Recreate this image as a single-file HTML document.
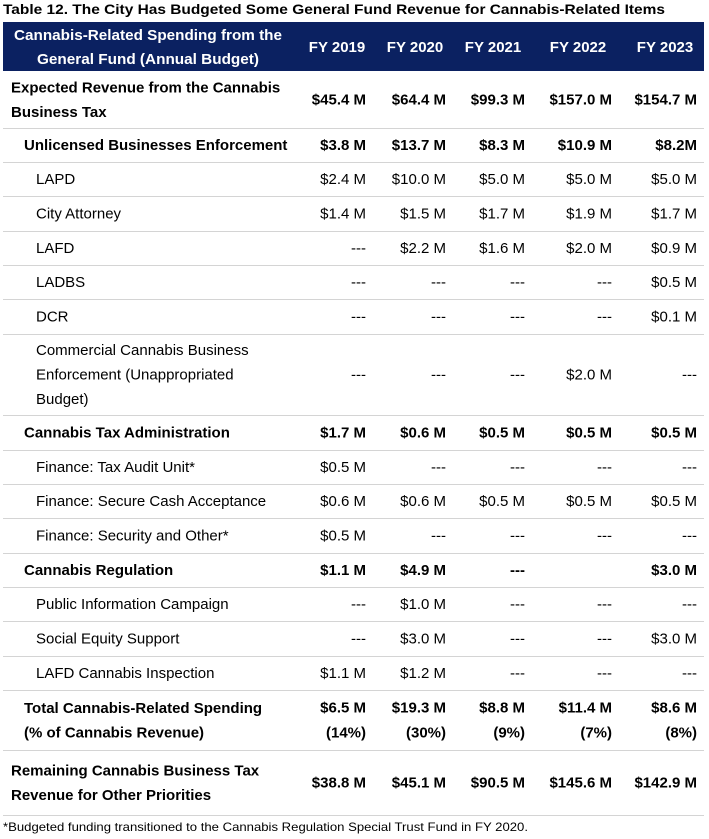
<!DOCTYPE html>
<html><head><meta charset="utf-8"><style>
html,body{margin:0;padding:0;background:#fff;}
svg{display:block;font-family:"Liberation Sans",sans-serif;}
</style></head><body>
<svg id="t" width="709" height="839" viewBox="0 0 709 839">
<text x="3" y="14" font-size="14" font-weight="bold" fill="#000" textLength="662" lengthAdjust="spacingAndGlyphs">Table 12. The City Has Budgeted Some General Fund Revenue for Cannabis-Related Items</text>
<rect x="3" y="22" width="701" height="49" fill="#0B2161"/>
<text x="148" y="40" font-size="15" font-weight="bold" fill="#fff" text-anchor="middle" textLength="268" lengthAdjust="spacingAndGlyphs">Cannabis-Related Spending from the</text>
<text x="148" y="64" font-size="15" font-weight="bold" fill="#fff" text-anchor="middle" textLength="222" lengthAdjust="spacingAndGlyphs">General Fund (Annual Budget)</text>
<g id="body"></g>
<text x="3" y="831" font-size="12" fill="#000" textLength="525" lengthAdjust="spacingAndGlyphs">*Budgeted funding transitioned to the Cannabis Regulation Special Trust Fund in FY 2020.</text>
</svg>
<script>
const years=["FY 2019","FY 2020","FY 2021","FY 2022","FY 2023"];
const labels=[["Expected Revenue from the Cannabis","Business Tax"],["Unlicensed Businesses Enforcement"],["LAPD"],["City Attorney"],["LAFD"],["LADBS"],["DCR"],["Commercial Cannabis Business","Enforcement (Unappropriated","Budget)"],["Cannabis Tax Administration"],["Finance: Tax Audit Unit*"],["Finance: Secure Cash Acceptance"],["Finance: Security and Other*"],["Cannabis Regulation"],["Public Information Campaign"],["Social Equity Support"],["LAFD Cannabis Inspection"],["Total Cannabis-Related Spending","(% of Cannabis Revenue)"],["Remaining Cannabis Business Tax","Revenue for Other Priorities"]];
const indent=[0,1,2,2,2,2,2,2,1,2,2,2,1,2,2,2,1,0];
const bold=[1,1,0,0,0,0,0,0,1,0,0,0,1,0,0,0,1,1];
const values=[
["$45.4 M","$64.4 M","$99.3 M","$157.0 M","$154.7 M"],
["$3.8 M","$13.7 M","$8.3 M","$10.9 M","$8.2M"],
["$2.4 M","$10.0 M","$5.0 M","$5.0 M","$5.0 M"],
["$1.4 M","$1.5 M","$1.7 M","$1.9 M","$1.7 M"],
["---","$2.2 M","$1.6 M","$2.0 M","$0.9 M"],
["---","---","---","---","$0.5 M"],
["---","---","---","---","$0.1 M"],
["---","---","---","$2.0 M","---"],
["$1.7 M","$0.6 M","$0.5 M","$0.5 M","$0.5 M"],
["$0.5 M","---","---","---","---"],
["$0.6 M","$0.6 M","$0.5 M","$0.5 M","$0.5 M"],
["$0.5 M","---","---","---","---"],
["$1.1 M","$4.9 M","---","","$3.0 M"],
["---","$1.0 M","---","---","---"],
["---","$3.0 M","---","---","$3.0 M"],
["$1.1 M","$1.2 M","---","---","---"],
["$6.5 M","$19.3 M","$8.8 M","$11.4 M","$8.6 M"],
["$38.8 M","$45.1 M","$90.5 M","$145.6 M","$142.9 M"]];
const pct=["(14%)","(30%)","(9%)","(7%)","(8%)"];
const bounds=[71,128,162,196,231,265,299,334,415,450,484,518,553,587,621,656,690,750,815];
const NS="http://www.w3.org/2000/svg";
const colRight=[366,446,525,612,697];
const headCenter=[337,415,493,578,665];
const indentX=[11,24,36];
const FS=15;
const svg=document.getElementById('t');
function mk(tag,attrs,txt){const e=document.createElementNS(NS,tag);for(const k in attrs)e.setAttribute(k,attrs[k]);if(txt!==undefined)e.textContent=txt;svg.appendChild(e);return e;}
years.forEach((y,i)=>{
 const e=mk('text',{x:headCenter[i],y:52,'font-size':FS,'font-weight':'bold',fill:'#fff','text-anchor':'middle'},y);
 
 
});
labels.forEach((lab,r)=>{
 const top=bounds[r],bot=bounds[r+1],mid=(top+bot)/2;
 const lh=24.5;
 const n=lab.length;
 lab.forEach((line,j)=>{
  const y=mid+(j-(n-1)/2)*lh+5;
  const e=mk('text',{x:indentX[indent[r]],y:y,'font-size':FS,'font-weight':bold[r]?'bold':'normal',fill:'#000'},line);
  
  
 });
 values[r].forEach((v,c)=>{
  const yy=(r===16)?mid-12.5+5:mid+5;
  const e=mk('text',{x:colRight[c],y:yy,'font-size':FS,'font-weight':bold[r]?'bold':'normal',fill:'#000','text-anchor':'end'},v);
  
  
 });
 if(r===16){pct.forEach((p,c)=>{
  const e=mk('text',{x:colRight[c],y:mid+12.5+5,'font-size':FS,'font-weight':'bold',fill:'#000','text-anchor':'end'},p);
  
  
 });}
 const l=mk('line',{x1:3,x2:704,y1:bot+0.5,y2:bot+0.5,stroke:'#d4d4d4','stroke-width':1});
 
 
});
</script>
</body></html>
